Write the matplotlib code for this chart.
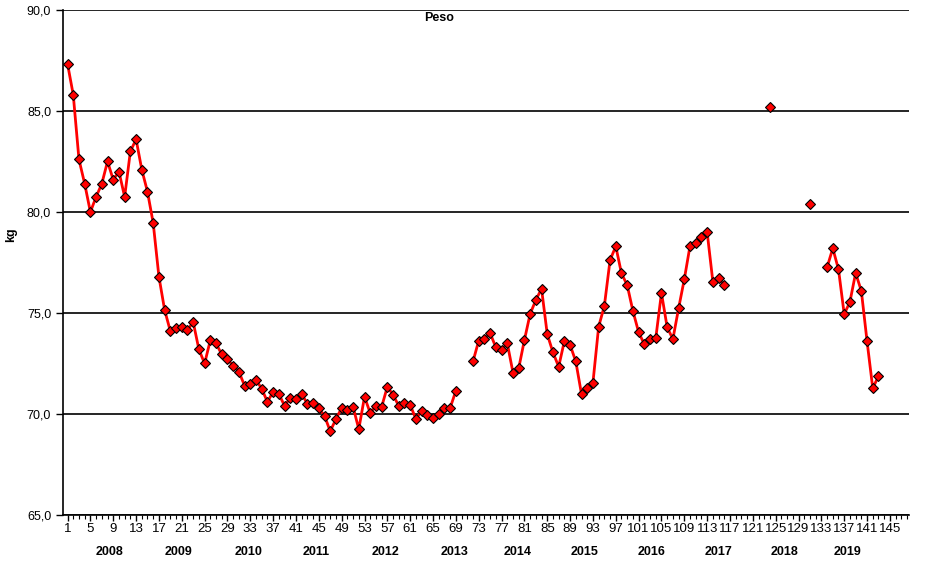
import numpy as np
import matplotlib.pyplot as plt
from matplotlib.ticker import FuncFormatter, MultipleLocator

plt.rcParams['font.family'] = ['Liberation Sans', 'DejaVu Sans']

nan = np.nan

# weight readings, one per measurement (nan = no reading)
peso = [
    87.33, 85.80, 82.60, 81.40, 80.00, 80.75, 81.40, 82.50, 81.60, 82.00,
    80.75, 83.00, 83.60, 82.10, 81.00, 79.45, 76.80, 75.15, 74.10, 74.25,
    74.30, 74.15, 74.55, 73.20, 72.50, 73.65, 73.50, 72.95, 72.70, 72.40,
    72.10, 71.40, 71.50, 71.70, 71.25, 70.60, 71.10, 71.00, 70.40, 70.80,
    70.75, 71.00, 70.50, 70.55, 70.30, 69.90, 69.15, 69.75, 70.30, 70.20,
    70.35, 69.25, 70.85, 70.05, 70.40, 70.35, 71.35, 70.95, 70.40, 70.55,
    70.45, 69.75, 70.15, 69.95, 69.80, 70.00, 70.30, 70.30, 71.15, nan,
    nan, 72.60, 73.63, 73.70, 74.00, 73.30, 73.17, 73.50, 72.05, 72.26,
    73.66, 74.95, 75.64, 76.20, 73.95, 73.05, 72.34, 73.61, 73.42, 72.60,
    70.98, 71.27, 71.55, 74.32, 75.35, 77.62, 78.30, 76.96, 76.38, 75.10,
    74.05, 73.45, 73.71, 73.75, 75.99, 74.29, 73.71, 75.23, 76.67, 78.32,
    78.48, 78.75, 79.00, 76.55, 76.72, 76.37, nan, nan, nan, nan,
    nan, nan, nan, 85.18, nan, nan, nan, nan, nan, nan,
    80.38, nan, nan, 77.26, 78.20, 77.16, 74.94, 75.55, 76.98, 76.09,
    73.60, 71.27, 71.88,
]
idx = np.arange(1, len(peso) + 1)

years = ['2008', '2009', '2010', '2011', '2012', '2013',
         '2014', '2015', '2016', '2017', '2018', '2019']
year_pos = [8.4, 20.5, 32.7, 44.6, 56.7, 68.8,
            79.8, 91.5, 103.3, 115.0, 126.6, 137.5]

fig = plt.figure(figsize=(9.33, 5.65), dpi=100)
ax = fig.add_axes([0.0675, 0.0885, 0.9065, 0.8938])

ax.plot(idx, peso, color='#ff0000', lw=2, marker='D', ms=5,
        mfc='#ff0000', mec='black', mew=0.8, zorder=3)

ax.set_xlim(0.2, 148.3)
ax.set_ylim(65, 90)
ax.yaxis.set_major_locator(MultipleLocator(5))
ax.yaxis.set_major_formatter(FuncFormatter(lambda v, p: f'{v:.1f}'.replace('.', ',')))
ax.set_xticks(np.arange(1, 146, 4))
ax.xaxis.set_minor_locator(MultipleLocator(1))
ax.grid(axis='y', color='black', lw=1.2)
ax.set_axisbelow(True)

for s in ['top', 'right']:
    ax.spines[s].set_visible(False)
ax.spines['left'].set_linewidth(1.2)
ax.spines['bottom'].set_linewidth(1.2)
ax.tick_params(axis='y', labelsize=9, length=5, width=1)
ax.tick_params(axis='x', which='major', labelsize=9.5, length=4, width=1, pad=2)
ax.tick_params(axis='x', which='minor', length=3, width=0.8)

for y, p in zip(years, year_pos):
    ax.text(p, -0.073, y, transform=ax.get_xaxis_transform(),
            ha='center', va='center', fontsize=9, fontweight='bold')

# axis label and title placed like the spreadsheet original
fig.text(11 / 933, 1 - 235 / 565, 'kg', rotation=90, ha='center',
         va='center', fontsize=9, fontweight='bold')
ax.text(0.445, 0.984, 'Peso', transform=ax.transAxes, ha='center',
        va='center', fontsize=9, fontweight='bold')

fig.savefig('out.png', dpi=100)
